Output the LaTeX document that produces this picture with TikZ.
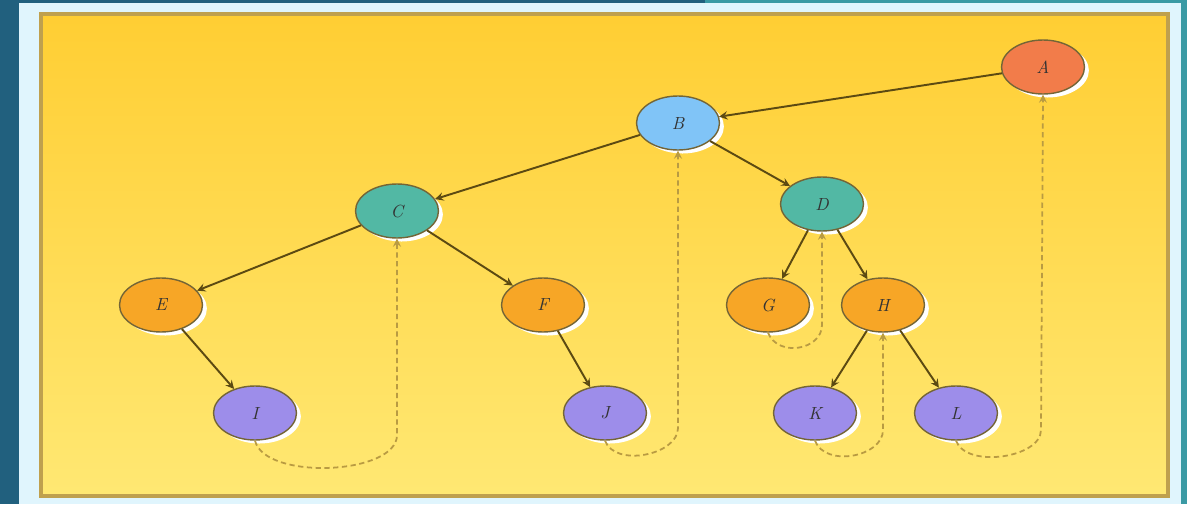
\documentclass[tikz,border=0pt]{standalone}
\usetikzlibrary{shapes.geometric,shadows}

\definecolor{frameblue}{HTML}{21607E}
\definecolor{framecyan}{HTML}{3A9AA4}
\definecolor{panelA}{HTML}{FFCE33}
\definecolor{panelB}{HTML}{FFE873}
\definecolor{panelline}{HTML}{BFA04E}
\definecolor{nodeA}{HTML}{F27C4A}
\definecolor{nodeB}{HTML}{80C4F7}
\definecolor{nodeC}{HTML}{52B8A4}
\definecolor{nodeE}{HTML}{F7A626}
\definecolor{nodeI}{HTML}{9D8DEA}
\definecolor{edgecol}{HTML}{5C4A12}
\definecolor{threadcol}{HTML}{B99B42}

\tikzset{
  knot/.style={ellipse,draw=edgecol!85,line width=0.8pt,
    minimum width=1.66cm,minimum height=1.08cm,inner sep=0pt,
    font=\itshape,text=black!80,
    drop shadow={shadow xshift=2.5pt,shadow yshift=-2pt,fill=white,opacity=1}},
  link/.style={->,>=stealth,draw=edgecol,line width=1.1pt},
  thread/.style={->,>=stealth,draw=threadcol,dash pattern=on 3pt off 2pt,line width=1pt}
}

\begin{document}
\begin{tikzpicture}[x=0.02cm,y=-0.02cm]
         \useasboundingbox (0,0) rectangle (1187,504) ;
         \fill[framecyan] (705,0) rectangle (1187,504) ;
         \fill[frameblue] (0,0) rectangle (705,504) ;
         \fill[white!88!cyan] (19,3) rectangle (1181,504) ;
         \shade[top color=panelA,bottom color=panelB] (41,14) rectangle (1168,496) ;
         \draw[panelline,line width=2pt] (41,14) rectangle (1168,496) ;
         % nodes
         \node[knot,fill=nodeA] (A) at (1043,67) {A} ;
         \node[knot,fill=nodeB] (B) at (678,123) {B} ;
         \node[knot,fill=nodeC] (C) at (397,211) {C} ;
         \node[knot,fill=nodeC] (D) at (822,204) {D} ;
         \node[knot,fill=nodeE] (E) at (161,305) {E} ;
         \node[knot,fill=nodeE] (F) at (543,305) {F} ;
         \node[knot,fill=nodeE] (G) at (768,305) {G} ;
         \node[knot,fill=nodeE] (H) at (883,305) {H} ;
         \node[knot,fill=nodeI] (I) at (255,413) {I} ;
         \node[knot,fill=nodeI] (J) at (605,413) {J} ;
         \node[knot,fill=nodeI] (K) at (815,413) {K} ;
         \node[knot,fill=nodeI] (L) at (956,413) {L} ;
         % tree edges
         \draw[link] (A) -- (B) ;
         \draw[link] (B) -- (C) ;
         \draw[link] (B) -- (D) ;
         \draw[link] (C) -- (E) ;
         \draw[link] (C) -- (F) ;
         \draw[link] (D) -- (G) ;
         \draw[link] (D) -- (H) ;
         \draw[link] (E) -- (I) ;
         \draw[link] (F) -- (J) ;
         \draw[link] (H) -- (K) ;
         \draw[link] (H) -- (L) ;
         % threads back up
         \coordinate (cI) at (397,435) ;
         \coordinate (cJ) at (678,428) ;
         \coordinate (cG) at (822,325) ;
         \coordinate (cK) at (883,430) ;
         \coordinate (cL) at (1041,430) ;
         \draw[thread] (I.south) .. controls +(10,40) and +(0,40) .. (cI) -- (C.south) ;
         \draw[thread] (J.south) .. controls +(10,27) and +(0,27) .. (cJ) -- (B.south) ;
         \draw[thread] (G.south) .. controls +(10,25) and +(0,25) .. (cG) -- (D.south) ;
         \draw[thread] (K.south) .. controls +(10,27) and +(0,27) .. (cK) -- (H.south) ;
         \draw[thread] (L.south) .. controls +(10,28) and +(0,28) .. (cL) -- (A.south) ;
      \end{tikzpicture}
\end{document}
